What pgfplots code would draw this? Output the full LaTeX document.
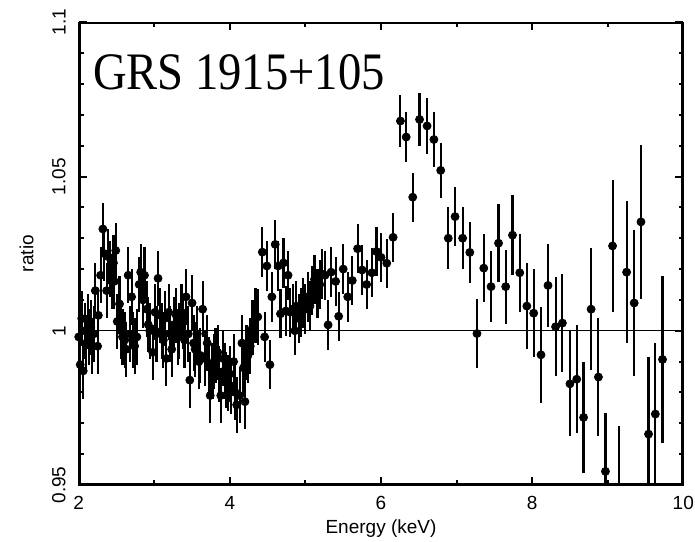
\documentclass[border=0pt]{standalone}
\usepackage{fontspec}
\setmainfont{Liberation Sans}
\newfontfamily\titlefont{Liberation Serif}
\usepackage{pgfplots}
\pgfplotsset{compat=1.18}
\usepackage{pgfplotstable}

\pgfplotstableread{
x y e
2.00 0.998 0.009
2.02 0.989 0.009
2.04 1.004 0.009
2.06 0.987 0.009
2.08 1.000 0.009
2.10 0.996 0.009
2.12 1.003 0.009
2.14 0.998 0.009
2.16 1.001 0.009
2.18 0.995 0.009
2.20 0.999 0.009
2.22 1.013 0.009
2.25 0.995 0.009
2.26 1.005 0.009
2.29 1.018 0.009
2.32 1.033 0.0085
2.34 1.025 0.009
2.37 1.013 0.009
2.39 1.024 0.009
2.42 1.020 0.009
2.44 1.016 0.009
2.46 1.022 0.009
2.47 1.016 0.009
2.49 1.026 0.009
2.51 1.003 0.009
2.54 1.0087 0.009
2.56 1.000 0.009
2.58 0.998 0.009
2.61 0.997 0.009
2.63 0.994 0.009
2.655 1.018 0.009
2.68 0.999 0.009
2.70 1.011 0.009
2.72 0.997 0.009
2.74 0.995 0.009
2.77 0.998 0.009
2.80 1.015 0.009
2.82 1.019 0.009
2.85 1.010 0.009
2.87 1.018 0.009
2.90 1.007 0.009
2.92 1.002 0.009
2.94 1.000 0.009
2.98 0.993 0.009
3.01 1.006 0.009
3.03 0.999 0.009
3.05 1.017 0.009
3.08 1.005 0.009
3.10 1.000 0.009
3.12 0.997 0.009
3.14 1.004 0.009
3.16 0.991 0.009
3.19 1.006 0.009
3.21 0.999 0.009
3.23 0.994 0.009
3.26 1.002 0.009
3.29 1.005 0.009
3.31 0.998 0.009
3.33 1.000 0.009
3.36 1.006 0.009
3.38 1.003 0.009
3.40 0.997 0.009
3.42 1.011 0.009
3.45 0.999 0.009
3.47 0.984 0.009
3.50 1.009 0.009
3.52 0.996 0.009
3.54 0.994 0.009
3.57 0.999 0.009
3.59 0.990 0.009
3.61 0.992 0.009
3.64 1.007 0.009
3.67 0.991 0.009
3.70 0.996 0.009
3.72 0.989 0.009
3.74 0.979 0.009
3.77 0.987 0.009
3.79 0.990 0.009
3.81 0.992 0.009
3.84 0.993 0.009
3.86 0.986 0.009
3.88 0.979 0.009
3.91 0.991 0.009
3.93 0.987 0.009
3.95 0.984 0.009
3.98 0.983 0.009
4.00 0.986 0.009
4.02 0.982 0.009
4.05 0.990 0.009
4.07 0.980 0.009
4.09 0.976 0.009
4.13 0.979 0.009
4.16 0.996 0.009
4.18 0.988 0.009
4.20 0.977 0.009
4.22 0.993 0.009
4.24 0.992 0.009
4.27 0.995 0.009
4.30 1.001 0.009
4.34 1.005 0.009
4.37 1.0045 0.009
4.43 1.0255 0.008
4.46 0.998 0.008
4.49 1.021 0.008
4.53 0.989 0.008
4.556 1.011 0.008
4.60 1.028 0.008
4.64 1.021 0.008
4.67 1.0055 0.008
4.71 1.022 0.008
4.74 1.0064 0.008
4.77 1.018 0.008
4.80 1.006 0.008
4.83 1.007 0.008
4.86 1.000 0.008
4.88 1.008 0.008
4.91 1.004 0.008
4.94 1.006 0.008
4.97 1.009 0.008
5.00 1.007 0.008
5.03 1.011 0.008
5.06 1.008 0.008
5.09 1.013 0.008
5.12 1.0167 0.008
5.16 1.012 0.008
5.19 1.015 0.008
5.22 1.0184 0.008
5.26 1.018 0.008
5.30 1.0019 0.008
5.34 1.019 0.008
5.40 1.016 0.008
5.44 1.0047 0.008
5.50 1.020 0.008
5.56 1.011 0.008
5.62 1.0163 0.008
5.69 1.0266 0.008
5.75 1.0197 0.008
5.81 1.015 0.008
5.88 1.0188 0.008
5.94 1.0257 0.008
6.00 1.0238 0.008
6.076 1.0219 0.008
6.16 1.0303 0.008
6.257 1.068 0.0085
6.333 1.0628 0.008
6.42 1.0433 0.008
6.51 1.0685 0.0085
6.61 1.0664 0.009
6.70 1.062 0.009
6.79 1.052 0.009
6.89 1.030 0.010
6.98 1.037 0.0095
7.08 1.030 0.010
7.175 1.0254 0.010
7.27 0.9991 0.0112
7.36 1.0203 0.011
7.456 1.0143 0.0115
7.555 1.0284 0.0126
7.65 1.0143 0.012
7.74 1.031 0.013
7.836 1.0188 0.0127
7.93 1.008 0.014
8.02 1.0057 0.0143
8.117 0.9922 0.0155
8.21 1.0147 0.0135
8.31 1.0013 0.016
8.40 1.0025 0.016
8.50 0.9828 0.017
8.59 0.9843 0.0176
8.68 0.9719 0.018
8.78 1.007 0.0197
8.877 0.985 0.019
8.97 0.9544 0.019
9.064 1.0275 0.0215
9.15 0.945 0.024
9.25 1.019 0.023
9.35 1.009 0.0236
9.44 1.0353 0.025
9.54 0.9665 0.025
9.63 0.973 0.023
9.725 0.9907 0.027
9.98 0.94 0.022
}\ratiodata

\begin{document}
\begin{tikzpicture}
\path[use as bounding box] (-39.35pt,-28pt) rectangle (308.15pt,242.5pt);
\begin{axis}[
  at={(0pt,0pt)}, anchor=south west,
  scale only axis,
  width=302.3pt, height=231.35pt,
  xmin=2, xmax=10, ymin=0.95, ymax=1.1,
  xtick={2,4,6,8,10}, xticklabels={2,4,6,8,10},
  minor xtick={3,5,7,9},
  ytick={0.95,1,1.05,1.1}, yticklabels={0.95,1,1.05,1.1},
  minor ytick={0.96,0.97,0.98,0.99,1.01,1.02,1.03,1.04,1.06,1.07,1.08,1.09},
  tick align=inside,
  major tick length=4pt, minor tick length=2.4pt,
  every tick/.append style={line width=1pt, black},
  ticklabel style={font=\fontsize{9.5}{11}\selectfont},
  yticklabel style={xshift=-3pt, rotate=90, anchor=south},
  xticklabel style={yshift=-2pt},
  xlabel={Energy (keV)}, ylabel={ratio},
  every axis label/.append style={font=\fontsize{9.5}{11}\selectfont},
  xlabel style={at={(axis description cs:0.5,-0.0951)}, anchor=center},
  ylabel style={at={(axis description cs:-0.086,0.5)}, anchor=center},
  unbounded coords=jump,
  clip=true,
]
% frame (half of the width falls inside the clipped area)
\addplot[black, line width=2pt, forget plot] coordinates {(2,0.95) (10,0.95) (10,1.1) (2,1.1) (2,0.95)};
% major ticks
\addplot[black, line width=1pt, forget plot] coordinates {
 (4,0.95) (4,0.9526) (nan,nan) (6,0.95) (6,0.9526) (nan,nan) (8,0.95) (8,0.9526) (nan,nan)
 (4,1.1) (4,1.0974) (nan,nan) (6,1.1) (6,1.0974) (nan,nan) (8,1.1) (8,1.0974) (nan,nan)
 (2,1) (2.106,1) (nan,nan) (2,1.05) (2.106,1.05) (nan,nan)
 (10,1) (9.894,1) (nan,nan) (10,1.05) (9.894,1.05)};
% minor ticks
\addplot[black, line width=1pt, forget plot] coordinates {
 (3,0.95) (3,0.9516) (nan,nan) (5,0.95) (5,0.9516) (nan,nan) (7,0.95) (7,0.9516) (nan,nan) (9,0.95) (9,0.9516) (nan,nan)
 (3,1.1) (3,1.0984) (nan,nan) (5,1.1) (5,1.0984) (nan,nan) (7,1.1) (7,1.0984) (nan,nan) (9,1.1) (9,1.0984) (nan,nan)
 (2,0.96) (2.0635,0.96) (nan,nan) (2,0.97) (2.0635,0.97) (nan,nan) (2,0.98) (2.0635,0.98) (nan,nan) (2,0.99) (2.0635,0.99) (nan,nan)
 (2,1.01) (2.0635,1.01) (nan,nan) (2,1.02) (2.0635,1.02) (nan,nan) (2,1.03) (2.0635,1.03) (nan,nan) (2,1.04) (2.0635,1.04) (nan,nan)
 (2,1.06) (2.0635,1.06) (nan,nan) (2,1.07) (2.0635,1.07) (nan,nan) (2,1.08) (2.0635,1.08) (nan,nan) (2,1.09) (2.0635,1.09) (nan,nan)
 (10,0.96) (9.9365,0.96) (nan,nan) (10,0.97) (9.9365,0.97) (nan,nan) (10,0.98) (9.9365,0.98) (nan,nan) (10,0.99) (9.9365,0.99) (nan,nan)
 (10,1.01) (9.9365,1.01) (nan,nan) (10,1.02) (9.9365,1.02) (nan,nan) (10,1.03) (9.9365,1.03) (nan,nan) (10,1.04) (9.9365,1.04) (nan,nan)
 (10,1.06) (9.9365,1.06) (nan,nan) (10,1.07) (9.9365,1.07) (nan,nan) (10,1.08) (9.9365,1.08) (nan,nan) (10,1.09) (9.9365,1.09)};
\addplot[black, line width=0.6pt, forget plot] coordinates {(2,1) (10,1)};
\addplot[only marks, mark=*, mark size=2pt, black,
  error bars/.cd, y dir=both, y explicit, error mark=none,
  error bar style={line width=1.05pt, black}]
  table[x=x, y=y, y error=e] {\ratiodata};
\node[anchor=base west, inner sep=0, yscale=1.13,
  font=\titlefont\fontsize{23.3}{28}\selectfont]
  at (axis description cs:0.0232,0.8537) {GRS 1915+105};
\end{axis}
\end{tikzpicture}
\end{document}
